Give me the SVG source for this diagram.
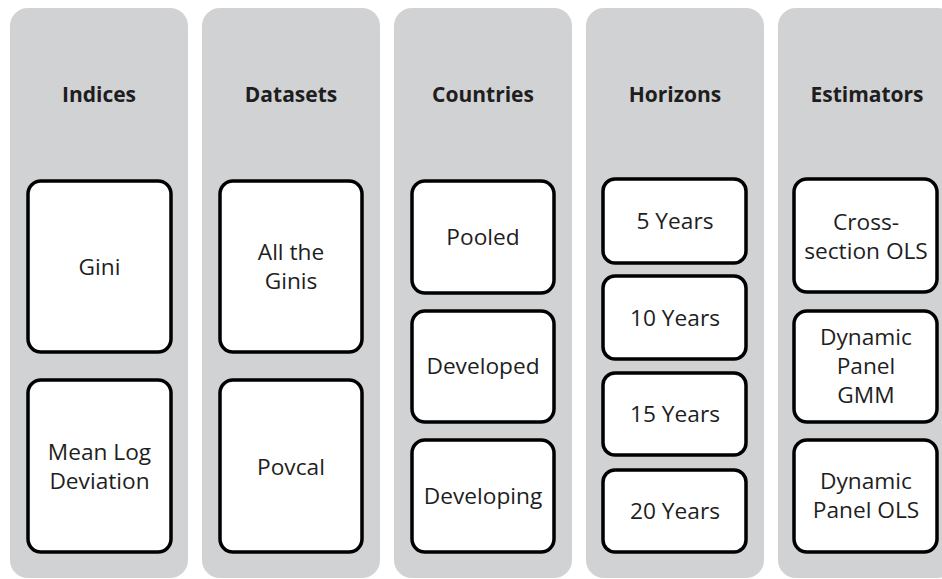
<svg xmlns="http://www.w3.org/2000/svg" width="942" height="579" viewBox="0 0 942 579">
<style>
.col{fill:#d1d2d4}
.box{fill:#fff;stroke:#000;stroke-width:3.5}
.h{font-family:"Open Sans","Liberation Sans",sans-serif;font-weight:bold;font-size:21px;fill:#1e1e1e;text-anchor:middle}
.t{font-family:"Open Sans","Liberation Sans",sans-serif;font-size:22.7px;fill:#1e1e1e;text-anchor:middle}
</style>
<rect width="942" height="579" fill="#fff"/>
<g id="col-indices">
<rect class="col" x="10" y="8" width="178" height="570" rx="18"/>
<text class="h" x="99" y="102">Indices</text>
</g>
<g id="col-datasets">
<rect class="col" x="202" y="8" width="178" height="570" rx="18"/>
<text class="h" x="291" y="102">Datasets</text>
</g>
<g id="col-countries">
<rect class="col" x="394" y="8" width="178" height="570" rx="18"/>
<text class="h" x="483" y="102">Countries</text>
</g>
<g id="col-horizons">
<rect class="col" x="586" y="8" width="178" height="570" rx="18"/>
<text class="h" x="675" y="102">Horizons</text>
</g>
<g id="col-estimators">
<rect class="col" x="778" y="8" width="178" height="570" rx="18"/>
<text class="h" x="867" y="102">Estimators</text>
</g>
<g id="gini"><rect class="box" x="28" y="181" width="143" height="171" rx="13"/><text class="t" x="99.5" y="275">Gini</text></g>
<g id="mld"><rect class="box" x="28" y="380" width="143" height="172" rx="13"/><text class="t" x="99.5" y="460">Mean Log</text><text class="t" x="99.5" y="489">Deviation</text></g>
<g id="allginis"><rect class="box" x="220" y="181" width="142" height="171" rx="13"/><text class="t" x="291" y="260">All the</text><text class="t" x="291" y="289">Ginis</text></g>
<g id="povcal"><rect class="box" x="220" y="380" width="142" height="172" rx="13"/><text class="t" x="291" y="475">Povcal</text></g>
<g id="pooled"><rect class="box" x="412" y="181" width="142" height="112" rx="13"/><text class="t" x="483" y="245">Pooled</text></g>
<g id="developed"><rect class="box" x="412" y="311" width="142" height="111" rx="13"/><text class="t" x="483" y="374">Developed</text></g>
<g id="developing"><rect class="box" x="412" y="440" width="142" height="112" rx="13"/><text class="t" x="483" y="504">Developing</text></g>
<g id="y5"><rect class="box" x="603" y="179" width="143" height="84" rx="12"/><text class="t" x="675" y="229">5 Years</text></g>
<g id="y10"><rect class="box" x="603" y="276" width="143" height="83" rx="12"/><text class="t" x="675" y="326">10 Years</text></g>
<g id="y15"><rect class="box" x="603" y="373" width="143" height="82" rx="12"/><text class="t" x="675" y="422">15 Years</text></g>
<g id="y20"><rect class="box" x="603" y="470" width="143" height="82" rx="12"/><text class="t" x="675" y="519">20 Years</text></g>
<g id="cs-ols"><rect class="box" x="794" y="179" width="143" height="113" rx="13"/><text class="t" x="866" y="230">Cross-</text><text class="t" x="866" y="259">section OLS</text></g>
<g id="dp-gmm"><rect class="box" x="794" y="311" width="143" height="111" rx="13"/><text class="t" x="866" y="345">Dynamic</text><text class="t" x="866" y="374">Panel</text><text class="t" x="866" y="403">GMM</text></g>
<g id="dp-ols"><rect class="box" x="794" y="440" width="143" height="112" rx="13"/><text class="t" x="866" y="489">Dynamic</text><text class="t" x="866" y="518">Panel OLS</text></g>
<g id="connectors"></g>
</svg>
